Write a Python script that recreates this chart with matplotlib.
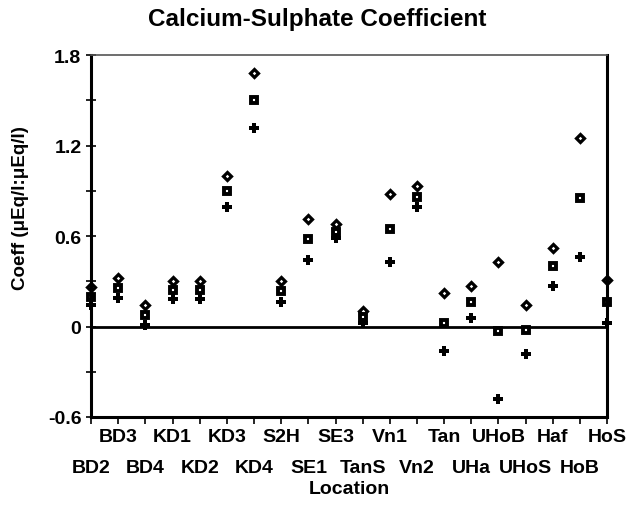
import numpy as np
import matplotlib
matplotlib.use('Agg')
import matplotlib.pyplot as plt

plt.rcParams['font.family'] = ['Liberation Sans', 'DejaVu Sans']
plt.rcParams['font.weight'] = 'bold'

# locations
locations = ['BD2', 'BD3', 'BD4', 'KD1', 'KD2', 'KD3', 'KD4', 'S2H', 'SE1', 'SE3',
             'TanS', 'Vn1', 'Vn2', 'Tan', 'UHa', 'UHoB', 'UHoS', 'Haf', 'HoB', 'HoS']
# upper bound (diamond)
upper = [0.26, 0.32, 0.14, 0.30, 0.30, 1.00, 1.68, 0.30, 0.71, 0.68,
         0.10, 0.88, 0.93, 0.22, 0.27, 0.43, 0.14, 0.52, 1.25, 0.31]
# coefficient (square)
coeff = [0.195, 0.255, 0.075, 0.245, 0.245, 0.90, 1.50, 0.235, 0.58, 0.63,
         0.06, 0.65, 0.86, 0.02, 0.16, -0.03, -0.02, 0.40, 0.85, 0.16]
# lower bound (plus)
lower = [0.14, 0.19, 0.01, 0.18, 0.18, 0.79, 1.32, 0.165, 0.44, 0.59,
         0.02, 0.43, 0.79, -0.16, 0.055, -0.48, -0.18, 0.27, 0.46, 0.02]

x = np.arange(len(locations))

fig = plt.figure(figsize=(6.29, 5.06), dpi=100)
ax = fig.add_axes([0.145, 0.174, 0.82, 0.715])

ax.axhline(0, color='black', lw=2)
ax.plot(x, upper, 'D', ms=4.2, mfc='white', mec='black', mew=2.3, clip_on=False)
ax.plot(x, coeff, 's', ms=4.2, mfc='white', mec='black', mew=2.8, clip_on=False)
ax.plot(x, lower, 'P', ms=7, color='black', mew=0, clip_on=False)

ax.set_xlim(0, len(locations) - 1)
ax.set_ylim(-0.6, 1.8)
ax.set_yticks([-0.6, 0, 0.6, 1.2, 1.8])
ax.set_yticklabels(['-0.6', '0', '0.6', '1.2', '1.8'])
ax.set_yticks(np.arange(-0.6, 1.81, 0.3), minor=True)

# staggered labels: odd positions on top row, even positions on bottom row
ax.set_xticks(x[1::2])
ax.set_xticklabels(locations[1::2])
ax.set_xticks(x[0::2], minor=True)
ax.set_xticklabels(locations[0::2], minor=True)

ax.tick_params(axis='y', which='both', direction='inout', length=7, width=1.2, labelsize=14)
ax.tick_params(axis='x', which='both', direction='out', length=5, width=1.2, labelsize=14)
ax.tick_params(axis='x', which='major', pad=3)
ax.tick_params(axis='x', which='minor', pad=25)
for s in ['left', 'bottom', 'right']:
    ax.spines[s].set_linewidth(2.2)
ax.spines['top'].set_linewidth(1.2)
ax.spines['top'].set_color('#555555')

fig.suptitle('Calcium-Sulphate Coefficient', fontsize=17.5, fontweight='bold', x=0.505, y=0.985)
ax.set_xlabel('Location', fontsize=14, fontweight='bold', labelpad=3)
ax.set_ylabel('Coeff (μEq/l:μEq/l)', fontsize=13.5, fontweight='bold', labelpad=10)
ax.yaxis.set_label_coords(-0.12, 0.58)

plt.savefig('out.png', dpi=100)
